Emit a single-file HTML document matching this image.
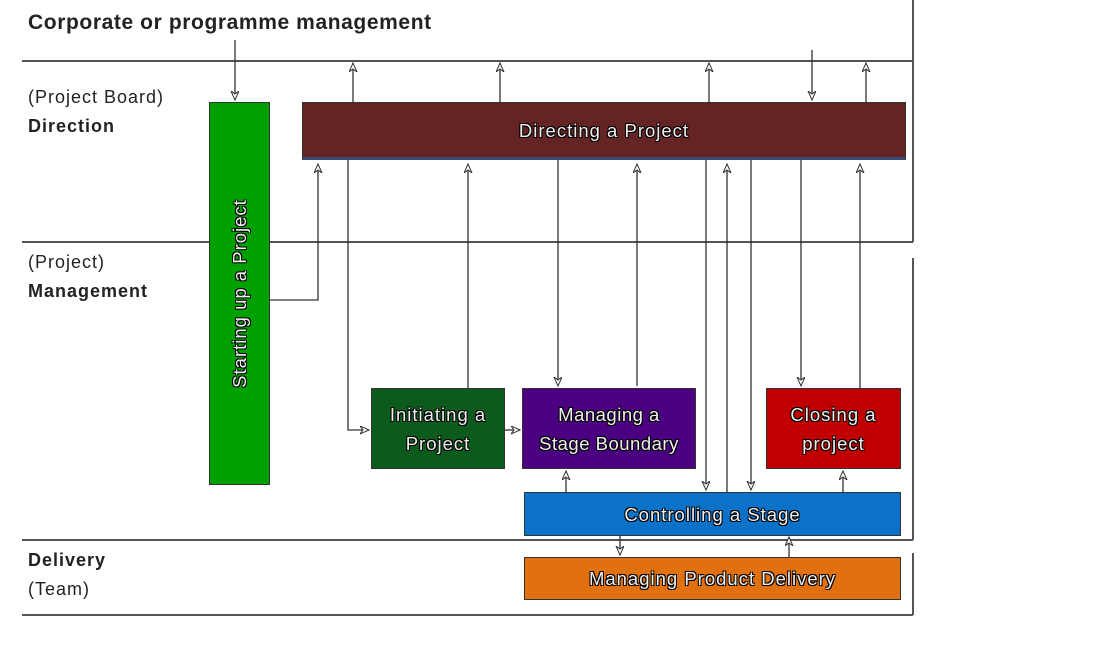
<!DOCTYPE html>
<html><head><style>
body{margin:0;background:#fff;width:1100px;height:663px;overflow:hidden;position:relative;font-family:"Liberation Sans",sans-serif}
.t{position:absolute;color:#222;font-size:18px;letter-spacing:1px}
.b{font-weight:bold}
.box{position:absolute;color:#eee;text-align:center;font-size:18.5px;letter-spacing:1px;text-shadow:1px 1px 0 #000,-1px -1px 0 #000,1px -1px 0 #000,-1px 1px 0 #000;display:flex;align-items:center;justify-content:center;line-height:29px;box-sizing:border-box;border:1px solid #333}
</style></head><body>
<svg width="1100" height="663" style="position:absolute;left:0;top:0">
<defs><marker id="a" markerWidth="10" markerHeight="10" refX="9" refY="4" orient="auto" markerUnits="userSpaceOnUse"><path d="M0,0 L9,4 L0,8 L3,4 Z" fill="#fff" stroke="#333" stroke-width="1"/></marker></defs>
<g stroke="#555" stroke-width="2" fill="none">
<path d="M22,61H913M22,242H913M22,540H913M22,615H913M913,0V242M913,258V540M913,553V615"/>
</g>
<g stroke="#333" stroke-width="1.3" fill="none" marker-end="url(#a)">
<path d="M235,40V100"/>
<path d="M353,102V63"/><path d="M500,102V63"/><path d="M709,102V63"/><path d="M866,102V63"/>
<path d="M812,50V100"/>
<path d="M269,300H318V164"/>
<path d="M348,160V430H369"/>
<path d="M468,388V164"/>
<path d="M558,160V386"/>
<path d="M637,386V164"/>
<path d="M706,160V490"/>
<path d="M727,492V164"/>
<path d="M751,160V490"/>
<path d="M801,160V386"/>
<path d="M860,388V164"/>
<path d="M504,430H520"/>
<path d="M566,492V471"/>
<path d="M843,492V471"/>
<path d="M620,535V555"/>
<path d="M789,557V537"/>
</g>
</svg>
<div class="t b" style="left:28px;top:11px;font-size:21px;letter-spacing:0.6px">Corporate or programme management</div>
<div class="t" style="left:28px;top:87px">(Project Board)</div>
<div class="t b" style="left:28px;top:116px">Direction</div>
<div class="t" style="left:28px;top:252px">(Project)</div>
<div class="t b" style="left:28px;top:281px">Management</div>
<div class="t b" style="left:28px;top:550px">Delivery</div>
<div class="t" style="left:28px;top:579px">(Team)</div>
<div class="box" style="left:209px;top:102px;width:61px;height:383px;background:#00a000"><span style="display:inline-block;transform:rotate(-90deg);white-space:nowrap">Starting up a Project</span></div>
<div class="box" style="left:302px;top:102px;width:604px;height:58px;background:#652424;border-bottom:3px solid #3a4a70">Directing a Project</div>
<div class="box" style="left:371px;top:388px;width:134px;height:81px;background:#0c5a1c">Initiating a<br>Project</div>
<div class="box" style="left:522px;top:388px;width:174px;height:81px;background:#4b0082;letter-spacing:0.5px">Managing a<br>Stage Boundary</div>
<div class="box" style="left:766px;top:388px;width:135px;height:81px;background:#c00000">Closing a<br>project</div>
<div class="box" style="left:524px;top:492px;width:377px;height:44px;background:#0a72c8">Controlling a Stage</div>
<div class="box" style="left:524px;top:557px;width:377px;height:43px;background:#e07010">Managing Product Delivery</div>
</body></html>
